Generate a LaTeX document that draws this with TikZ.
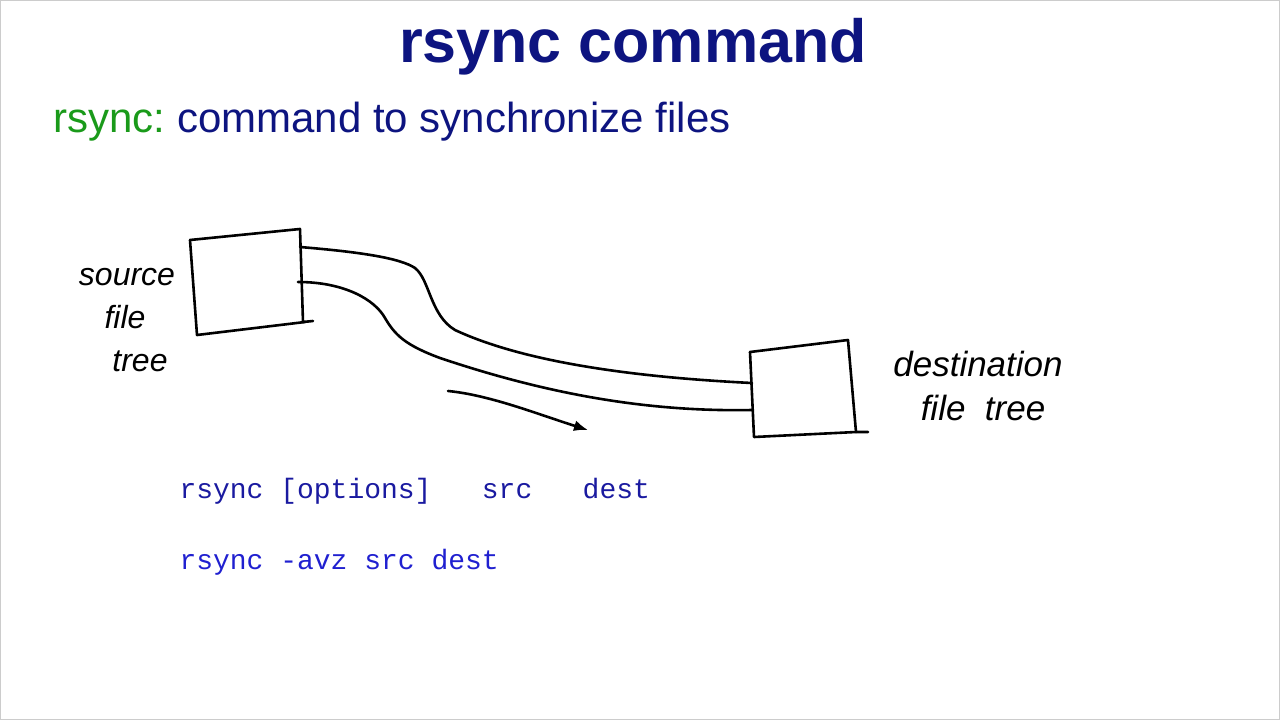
\documentclass[tikz,border=0pt]{standalone}
\usepackage{fontspec}
\setmainfont{Liberation Sans}
\setmonofont{Liberation Mono}
\usetikzlibrary{arrows.meta}
\definecolor{navy}{HTML}{0D1480}
\definecolor{grn}{HTML}{1A9A1A}
\definecolor{codeA}{HTML}{1A1AA0}
\definecolor{codeB}{HTML}{2020D0}
\tikzset{hand/.style={line width=2.6pt,line cap=round,line join=round,black},
 hlabel/.style={font=\fontsize{32}{32}\selectfont\itshape,anchor=center},
 code/.style={font=\ttfamily\fontsize{28}{28}\selectfont,anchor=west}}
\begin{document}
\begin{tikzpicture}[x=1pt,y=-1pt]
\useasboundingbox (0,0) rectangle (1280,720);
\draw[gray!40] (0.5,0.5) rectangle (1279.5,719.5);
\node[font=\bfseries\fontsize{61}{61}\selectfont,text=navy] (title) at (633,47) {rsync command};
\node[anchor=west,font=\fontsize{42}{42}\selectfont] (sub) at (50,122) {\textcolor{grn}{rsync:}\ \textcolor{navy}{command to synchronize files}};
% source box
\draw[hand] (190,240) -- (300,229) -- (303,322) -- (313,321);
\draw[hand] (190,240) -- (197,335) -- (305,322);
% dest box
\draw[hand] (750,352) -- (848,340) -- (856,432) -- (868,432);
\draw[hand] (750,352) -- (754,437) -- (856,432);
% tube
\draw[hand] (300,247) .. controls (360,252) and (400,258) .. (415,268) .. controls (430,280) and (430,315) .. (455,330) .. controls (530,365) and (650,378) .. (752,383);
\draw[hand] (298,282) .. controls (345,282) and (375,300) .. (385,318) .. controls (395,335) and (405,345) .. (440,358) .. controls (550,395) and (650,412) .. (752,410);
% arrow
\draw[hand,-{Latex[length=14pt,width=11pt]}] (448,391) .. controls (490,395) and (540,415) .. (588,430);
\node[hlabel] (s1) at (127,277) {source};
\node[hlabel] (s2) at (125,317) {file};
\node[hlabel] (s3) at (140,361) {tree};
\node[hlabel,font=\fontsize{35}{35}\selectfont\itshape] (d1) at (978,364) {destination};
\node[hlabel,font=\fontsize{35}{35}\selectfont\itshape] (d2) at (983,408) {file\ \ tree};
\node[code,text=codeA] (c1) at (176,491) {rsync [options]\ \ \ src\ \ \ dest};
\node[code,text=codeB] (c2) at (176,562) {rsync -avz src dest};
\end{tikzpicture}
\end{document}
